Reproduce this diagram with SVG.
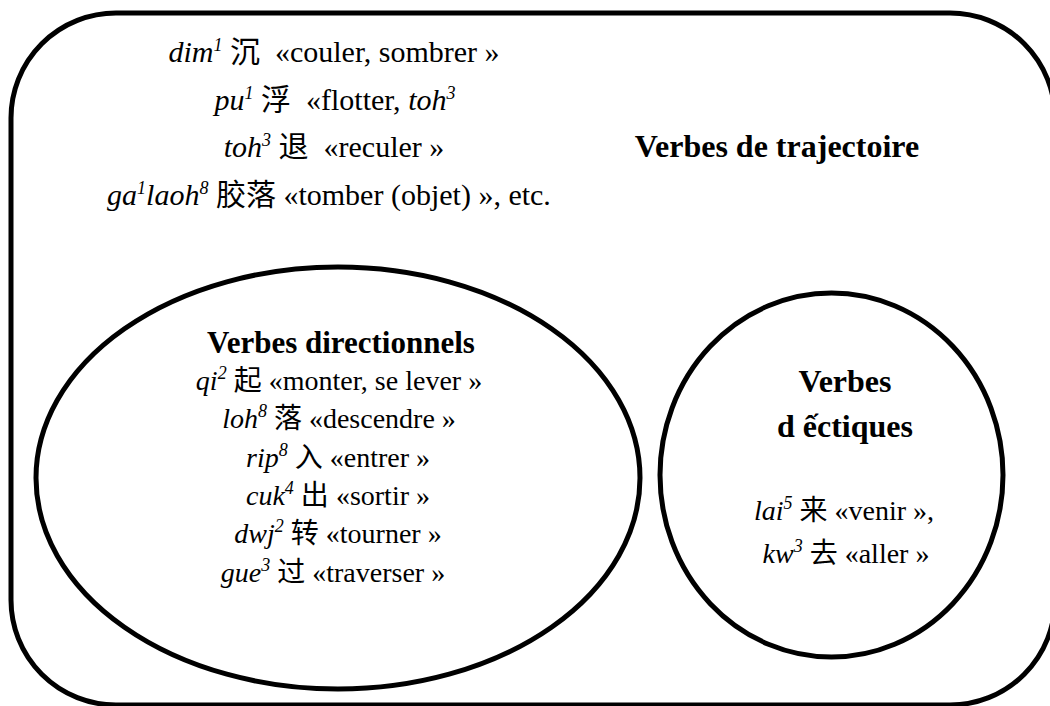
<svg xmlns="http://www.w3.org/2000/svg" width="1050" height="706" viewBox="0 0 1050 706">
<style>
.shape{fill:none;stroke:#000;stroke-width:5}
text{font-family:"Liberation Serif","Times New Roman","Noto Sans CJK SC",serif;fill:#000;text-anchor:middle;white-space:pre}
.r{font-size:30px}
.e{font-size:28px}
.b{font-size:32px;font-weight:bold}
.b2{font-size:31px;font-weight:bold}
.i{font-style:italic}
.s{font-style:italic;font-size:18px}
.c{font-family:"Noto Sans CJK SC","Noto Sans CJK TC",sans-serif}
</style>
<rect width="1050" height="706" fill="#fff"/>
<g id="trajectoire">
<rect class="shape" x="11" y="13" width="1044" height="692" rx="105" ry="105"/>
<text class="r" x="334" y="62"><tspan class="i">dim</tspan><tspan class="s" dy="-11">1</tspan><tspan dy="11"> </tspan><tspan class="c">沉</tspan>  «couler, sombrer »</text>
<text class="r" x="335" y="110"><tspan class="i">pu</tspan><tspan class="s" dy="-11">1</tspan><tspan dy="11"> </tspan><tspan class="c">浮</tspan>  «flotter, <tspan class="i">toh</tspan><tspan class="s" dy="-11">3</tspan></text>
<text class="r" x="334" y="157"><tspan class="i">toh</tspan><tspan class="s" dy="-11">3</tspan><tspan dy="11"> </tspan><tspan class="c">退</tspan>  «reculer »</text>
<text class="r" x="329" y="205"><tspan class="i">ga</tspan><tspan class="s" dy="-11">1</tspan><tspan class="i" dy="11">laoh</tspan><tspan class="s" dy="-11">8</tspan><tspan dy="11"> </tspan><tspan class="c">胶落</tspan> «tomber (objet) », etc.</text>
<text class="b" x="777" y="157">Verbes de trajectoire</text>
</g>
<g id="directionnels">
<ellipse class="shape" cx="338" cy="478" rx="302" ry="211"/>
<text class="b2" x="341" y="353">Verbes directionnels</text>
<text class="e" x="339" y="390"><tspan class="i">qi</tspan><tspan class="s" dy="-11">2</tspan><tspan dy="11"> </tspan><tspan class="c">起</tspan> «monter, se lever »</text>
<text class="e" x="339" y="428"><tspan class="i">loh</tspan><tspan class="s" dy="-11">8</tspan><tspan dy="11"> </tspan><tspan class="c">落</tspan> «descendre »</text>
<text class="e" x="338" y="467"><tspan class="i">rip</tspan><tspan class="s" dy="-11">8</tspan><tspan dy="11"> </tspan><tspan class="c">入</tspan> «entrer »</text>
<text class="e" x="338" y="505"><tspan class="i">cuk</tspan><tspan class="s" dy="-11">4</tspan><tspan dy="11"> </tspan><tspan class="c">出</tspan> «sortir »</text>
<text class="e" x="338" y="543"><tspan class="i">dwj</tspan><tspan class="s" dy="-11">2</tspan><tspan dy="11"> </tspan><tspan class="c">转</tspan> «tourner »</text>
<text class="e" x="333" y="582"><tspan class="i">gue</tspan><tspan class="s" dy="-11">3</tspan><tspan dy="11"> </tspan><tspan class="c">过</tspan> «traverser »</text>
</g>
<g id="deictiques">
<ellipse class="shape" cx="831.5" cy="475" rx="171.5" ry="182"/>
<text class="b" x="845" y="392">Verbes</text>
<text class="b" x="845" y="437">d ếctiques</text>
<text class="e" x="844" y="520"><tspan class="i">lai</tspan><tspan class="s" dy="-11">5</tspan><tspan dy="11"> </tspan><tspan class="c">来</tspan> «venir »,</text>
<text class="e" x="846" y="563"><tspan class="i">kw</tspan><tspan class="s" dy="-11">3</tspan><tspan dy="11"> </tspan><tspan class="c">去</tspan> «aller »</text>
</g>
<g id="connectors"/>
</svg>
